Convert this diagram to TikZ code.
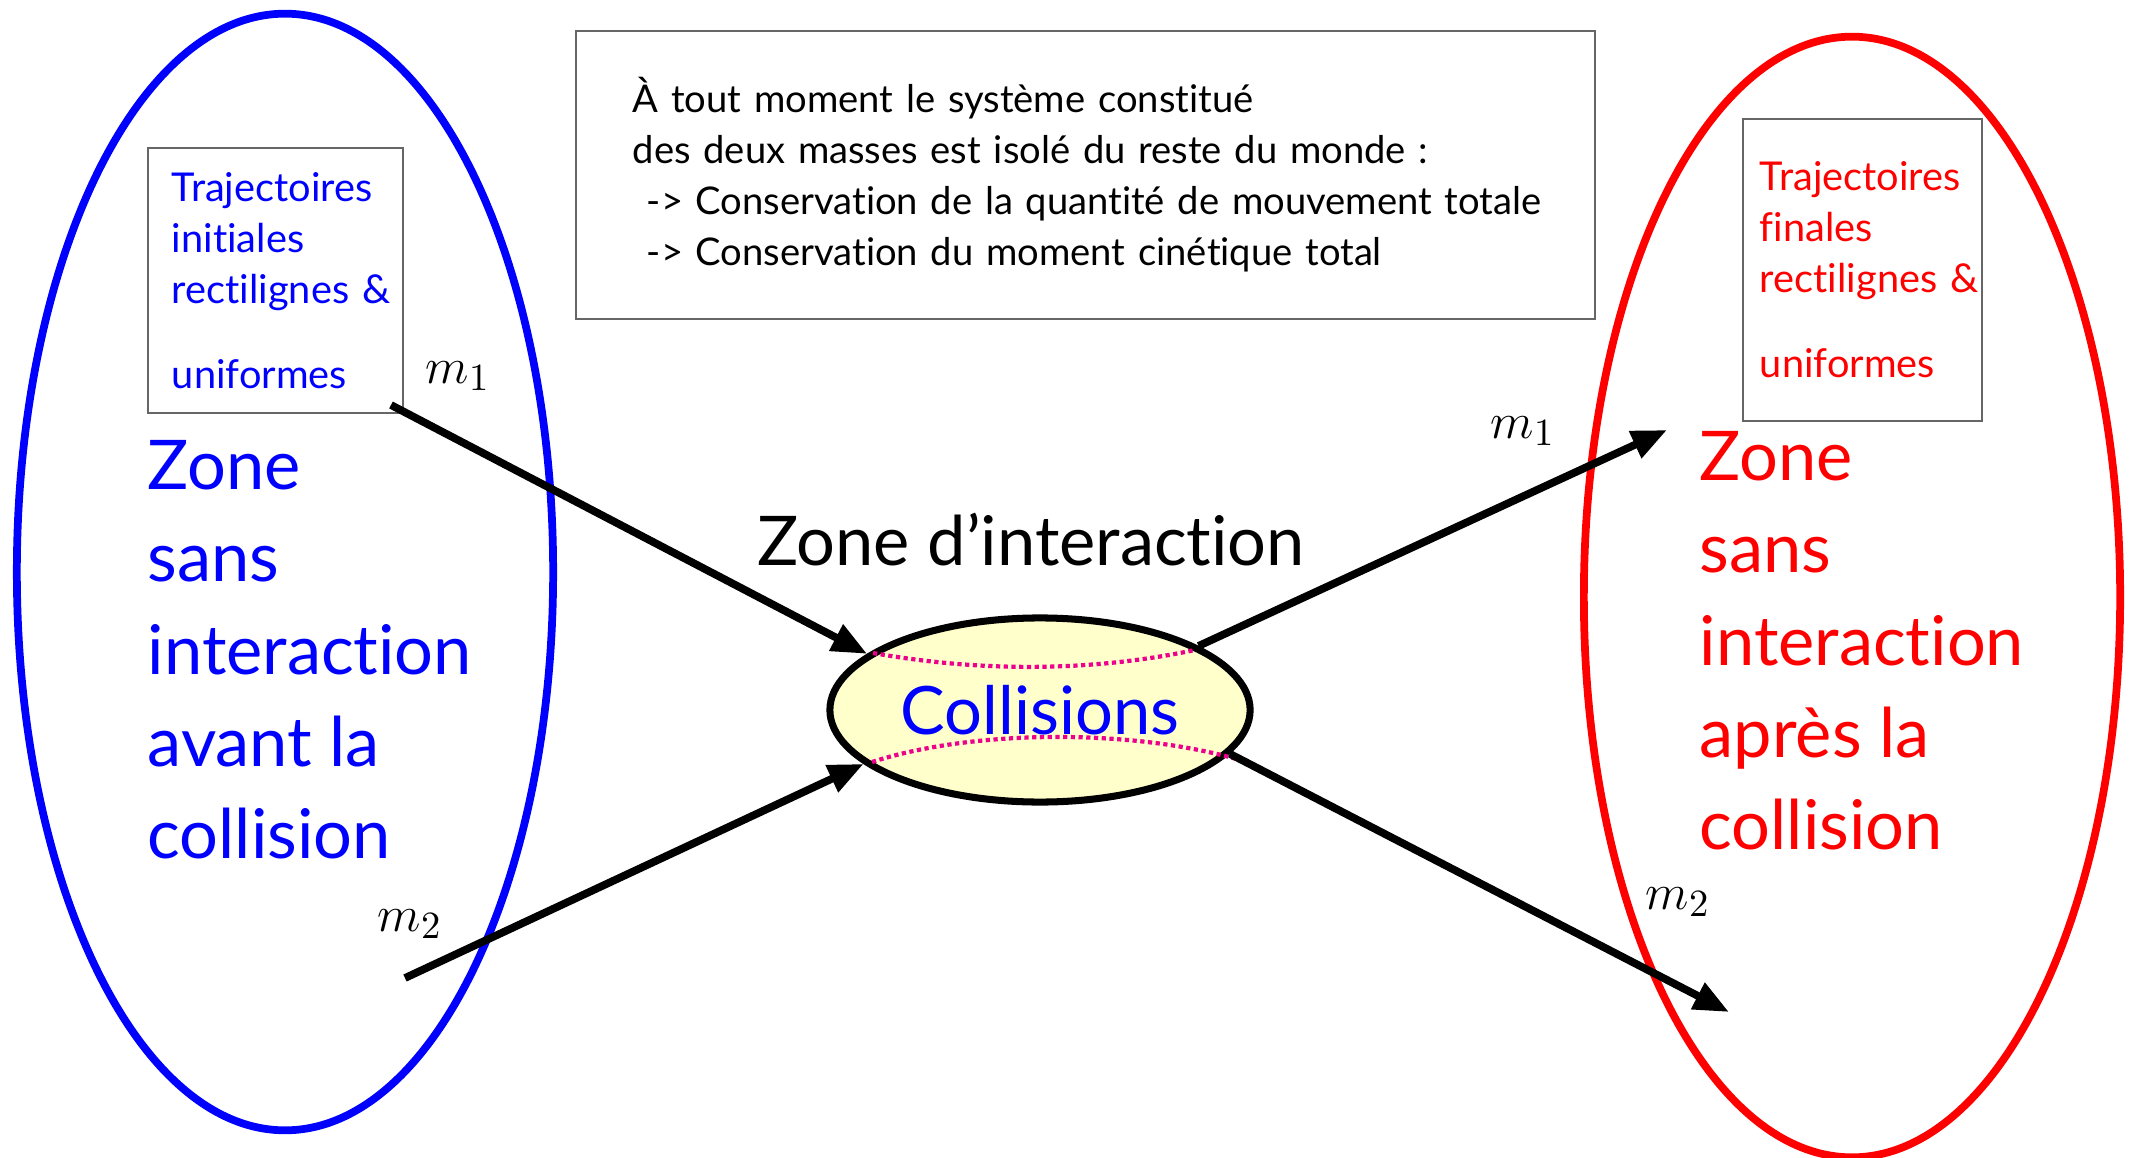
\documentclass[tikz,border=0pt]{standalone}
\usepackage{fontspec}
\setmainfont{Lato}[Ligatures=NoCommon]
\usepackage{tikz}
\usetikzlibrary{arrows.meta,shapes.geometric}
\definecolor{jaune}{RGB}{255,255,204}

\begin{document}
\begin{tikzpicture}[x=0.01cm,y=-0.01cm,>={Triangle[length=10pt,width=8pt]},
  zone/.style={ellipse,line width=2.2pt,inner sep=0pt,minimum width=5.36cm},
  trajbox/.style={draw=black!60,line width=0.6pt,inner ysep=0pt,align=left,
    font=\fontsize{11.3pt}{14.5pt}\selectfont},
  big/.style={inner sep=0pt,align=left,font=\fontsize{19.5pt}{26.2pt}\selectfont},
  mass/.style={inner sep=0pt,font=\fontsize{15pt}{17pt}\selectfont},
  fleche/.style={->,line width=2.2pt},
  bord/.style={magenta,densely dotted,line width=1.2pt}]
  \useasboundingbox (0,0) rectangle (2131,1158);

  % zones sans interaction
  \node[zone,draw=blue,minimum height=11.16cm] (avant) at (285,572) {};
  \node[zone,draw=red,minimum height=11.2cm] (apres) at (1852,597) {};

  % cadre du haut
  \node[trajbox,minimum width=10.19cm,minimum height=2.88cm,inner xsep=0.57cm,
    text width=9.05cm,font=\fontsize{10.85pt}{14.5pt}\selectfont] (isole) at (1085.5,175)
    {\mbox{À tout moment le système constitué}\\
     \mbox{des deux masses est isolé du reste du monde :}\\
     \mbox{\hspace*{4pt}-> Conservation de la quantité de mouvement totale}\\
     \mbox{\hspace*{4pt}-> Conservation du moment cinétique total}};

  \node[trajbox,text=blue,minimum width=2.55cm,minimum height=2.65cm,inner xsep=0.24cm,
    text width=2.07cm] (initiales) at (275.5,280.5)
    {Trajectoires\\initiales\\\mbox{rectilignes \&}\\[9.7pt]uniformes};
  \node[trajbox,text=red,minimum width=2.39cm,minimum height=3.02cm,inner xsep=0.17cm,
    text width=2.05cm] (finales) at (1862.5,270)
    {Trajectoires\\finales\\\mbox{rectilignes \&}\\[9.7pt]uniformes};

  \node[big,text=blue,anchor=north west] (txtavant) at (147,440)
    {Zone\\sans\\interaction\\avant la\\collision};
  \node[big,text=red,anchor=north west] (txtapres) at (1699,431)
    {Zone\\sans\\interaction\\après la\\collision};

  % zone d'interaction
  \node[big] (inter) at (1031,540) {Zone d’interaction};
  \node[draw,ellipse,fill=jaune,line width=2pt,minimum width=4.2cm,minimum height=1.84cm,
    inner sep=0pt,text=blue,font=\fontsize{19pt}{24pt}\selectfont] (coll) at (1040,710) {Collisions};
  \draw[bord] (873,653) .. controls (980,672) and (1090,672) .. (1195,650);
  \draw[bord] (872,762) .. controls (970,730) and (1130,728) .. (1240,760);

  % trajectoires
  \coordinate (a1) at (391,405);
  \coordinate (a2) at (405,978);
  \coordinate (b1) at (1667,430);
  \coordinate (b2) at (1729,1012);
  \draw[fleche] (a1) -- (coll.162);
  \draw[fleche] (a2) -- (coll.197);
  \draw[fleche] (coll.22) -- (b1);
  \draw[fleche] (coll.-13) -- (b2);

  \node[mass] (ma1) at (458,376) {$m_1$};
  \node[mass] (ma2) at (410,924) {$m_2$};
  \node[mass] (mb1) at (1523,431) {$m_1$};
  \node[mass] (mb2) at (1678,902) {$m_2$};
\end{tikzpicture}
\end{document}
